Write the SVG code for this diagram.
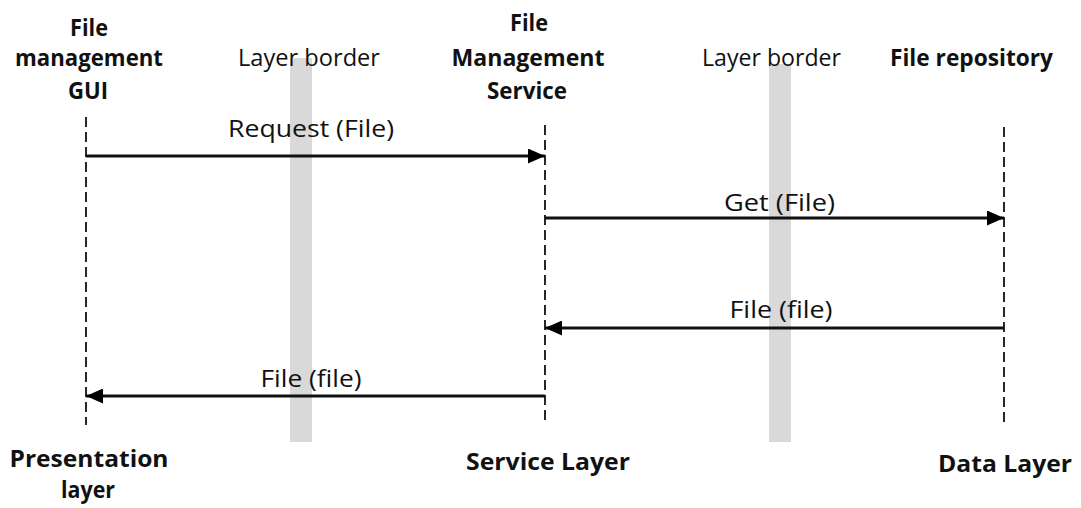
<svg xmlns="http://www.w3.org/2000/svg" width="1081" height="508" viewBox="0 0 1081 508">
  <style>
    .t { font-family: "Open Sans", "Liberation Sans", sans-serif; font-size: 23px; fill: #111; text-anchor: middle; }
    .b { font-weight: bold; }
    .life { stroke: #111; stroke-width: 1.8; stroke-dasharray: 10 5; fill: none; }
    .msg { stroke: #111; stroke-width: 2.8; fill: none; }
    .border { fill: #d9d9d9; }
  </style>
  <defs>
    <marker id="arrow" viewBox="0 0 17 15" refX="17" refY="7.5" markerWidth="17" markerHeight="15" markerUnits="userSpaceOnUse" orient="auto">
      <path d="M0,0 L17,7.5 L0,15 Z" fill="#000"/>
    </marker>
  </defs>
  <rect width="1081" height="508" fill="#fff"/>

  <!-- layer borders -->
  <g id="border-1">
    <rect class="border" x="290" y="58" width="22" height="384"/>
    <text class="t" x="309" y="66" textLength="142" lengthAdjust="spacingAndGlyphs">Layer border</text>
  </g>
  <g id="border-2">
    <rect class="border" x="769" y="64" width="22" height="378"/>
    <text class="t" x="771.5" y="66" textLength="139" lengthAdjust="spacingAndGlyphs">Layer border</text>
  </g>

  <!-- participants -->
  <g id="gui">
    <text class="t b" x="89" y="36" textLength="38" lengthAdjust="spacingAndGlyphs">File</text>
    <text class="t b" x="89" y="66" textLength="148" lengthAdjust="spacingAndGlyphs">management</text>
    <text class="t b" x="88" y="99" textLength="40" lengthAdjust="spacingAndGlyphs">GUI</text>
    <line class="life" x1="86" y1="117" x2="86" y2="425"/>
    <text class="t b" x="89" y="467" textLength="159" lengthAdjust="spacingAndGlyphs">Presentation</text>
    <text class="t b" x="88" y="498" textLength="54" lengthAdjust="spacingAndGlyphs">layer</text>
  </g>
  <g id="service">
    <text class="t b" x="529" y="31" textLength="38" lengthAdjust="spacingAndGlyphs">File</text>
    <text class="t b" x="528" y="66" textLength="153" lengthAdjust="spacingAndGlyphs">Management</text>
    <text class="t b" x="527" y="99" textLength="80" lengthAdjust="spacingAndGlyphs">Service</text>
    <line class="life" x1="545" y1="125" x2="545" y2="424"/>
    <text class="t b" x="548" y="470" textLength="164" lengthAdjust="spacingAndGlyphs">Service Layer</text>
  </g>
  <g id="repository">
    <text class="t b" x="971.5" y="66" textLength="163" lengthAdjust="spacingAndGlyphs">File repository</text>
    <line class="life" x1="1004" y1="127" x2="1004" y2="424"/>
    <text class="t b" x="1005" y="472" textLength="134" lengthAdjust="spacingAndGlyphs">Data Layer</text>
  </g>

  <!-- messages -->
  <g id="connectors">
    <line class="msg" x1="86" y1="156" x2="545" y2="156" marker-end="url(#arrow)"/>
    <text class="t" x="311" y="136.5" textLength="166" lengthAdjust="spacingAndGlyphs">Request (File)</text>

    <line class="msg" x1="545" y1="218" x2="1004" y2="218" marker-end="url(#arrow)"/>
    <text class="t" x="779.5" y="211" textLength="111" lengthAdjust="spacingAndGlyphs">Get (File)</text>

    <line class="msg" x1="1004" y1="328" x2="545" y2="328" marker-end="url(#arrow)"/>
    <text class="t" x="781" y="318" textLength="103" lengthAdjust="spacingAndGlyphs">File (file)</text>

    <line class="msg" x1="545" y1="396" x2="86" y2="396" marker-end="url(#arrow)"/>
    <text class="t" x="311" y="387" textLength="101" lengthAdjust="spacingAndGlyphs">File (file)</text>
  </g>
</svg>
